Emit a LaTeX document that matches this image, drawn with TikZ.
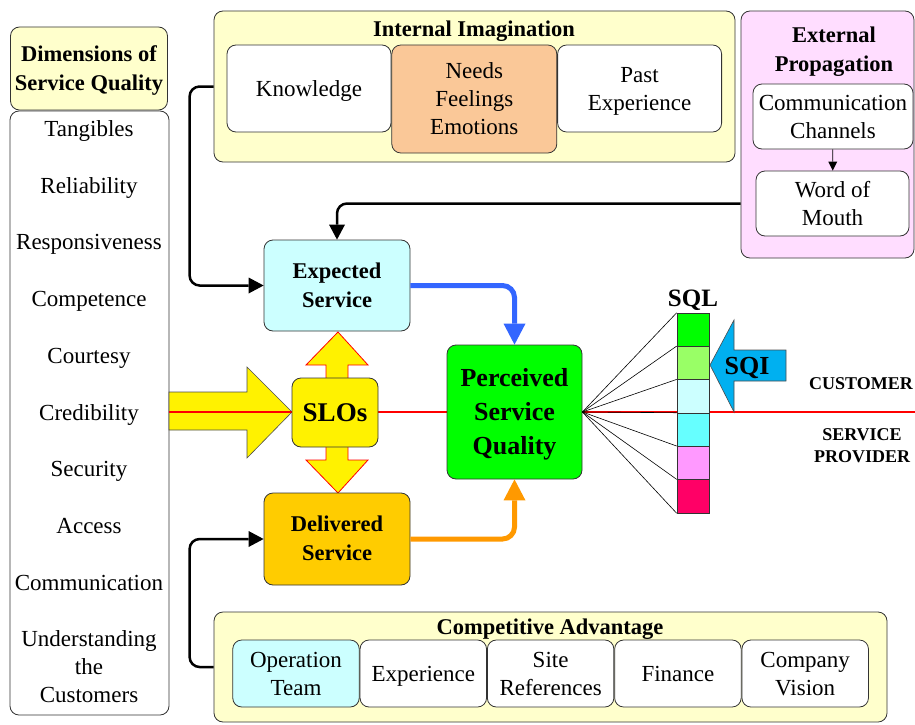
\documentclass[tikz,border=0pt]{standalone}
\usepackage{fontspec}
\setmainfont{Liberation Serif}
\usetikzlibrary{positioning,arrows.meta}

\definecolor{paleyellow}{HTML}{FFFFCC}
\definecolor{peach}{RGB}{250,200,152}
\definecolor{palepink}{HTML}{FFDDFF}
\definecolor{palecyan}{HTML}{CCFFFF}
\definecolor{gold}{HTML}{FFCC00}
\definecolor{sqlgreen}{HTML}{00FF00}
\definecolor{sqllime}{HTML}{99FF66}
\definecolor{sqlcyan}{HTML}{66FFFF}
\definecolor{sqlpink}{HTML}{FF99FF}
\definecolor{sqlred}{HTML}{FF0066}
\definecolor{sqiblue}{RGB}{0,176,240}
\definecolor{flowblue}{HTML}{3366FF}
\definecolor{floworange}{HTML}{FF9900}

% equal room above and below the capitals, so text sits in the middle
% (\topstrut also opens the first line of multi-line texts)
\newcommand\topstrut{\rule{0pt}{0.95em}}
\newcommand\botstrut{\rule[-0.29em]{0pt}{0.29em}}

\begin{document}
\begin{tikzpicture}[x=1pt, y=-1pt, font=\fontsize{23}{28}\selectfont,
	every node/.style={execute at begin node=\topstrut, execute at end node=\botstrut},
	box/.style={draw=black!80, line width=0.8pt, rounded corners=9pt, align=center, inner sep=2pt},
	panel/.style={box, fill=paleyellow},
	sub/.style={box, fill=white, minimum width=126.5pt, minimum height=67pt},
	hd/.style={font=\fontsize{22.5}{29}\selectfont\bfseries, align=center},
	conn/.style={line width=2.5pt, rounded corners=10pt, -{Triangle[length=15pt,width=16pt,line width=0pt]}},
	flow/.style={line width=5pt, rounded corners=12pt, -{Triangle[length=21pt,width=22pt,line width=0pt]}},
	cell/.style={draw=black!80, line width=0.6pt, minimum width=32pt, minimum height=33.3pt, inner sep=0pt}]
	\useasboundingbox (0,0) rectangle (915,725);

	\node[panel, hd, minimum width=157pt, minimum height=83pt] (dimhead) at (89,68.5) {\topstrut Dimensions of\\Service Quality};
	\node[box, fill=white, minimum width=159pt, minimum height=604pt] (dimlist) at (89.5,413) {};
	\foreach \txt [count=\i] in {Tangibles, Reliability, Responsiveness, Competence, Courtesy, Credibility, Security, Access, Communication}
		\node (dim\i) at (89, 72.3+56.7*\i) {\txt};
	\node[align=center] (dim10) at (89,667) {\topstrut Understanding\\the\\Customers};

	\node[panel, minimum width=521pt, minimum height=151pt] (imag) at (474.5,86.5) {};
	\node[hd] (imagtitle) at (474,29) {Internal Imagination};
	\node[box, fill=white, minimum width=164pt, minimum height=87pt] (know) at (309,88.5) {Knowledge};
	\node[box, fill=peach, minimum width=165pt, minimum height=108pt, anchor=north west] (needs) at (know.north east) {\topstrut Needs\\Feelings\\Emotions};
	\node[box, fill=white, minimum width=164pt, minimum height=87pt, anchor=north west] (past) at (needs.north east) {\topstrut Past\\Experience};

	\node[box, fill=palepink, minimum width=173pt, minimum height=247pt] (extern) at (827.5,134.5) {};
	\node[hd] (externtitle) at (834,50) {\topstrut External\\Propagation};
	\node[box, fill=white, minimum width=160pt, minimum height=65pt] (chan) at (833,116.5) {\topstrut Communication\\Channels};
	\node[box, fill=white, minimum width=153pt, minimum height=65pt] (wom) at (832.5,203.5) {\topstrut Word of\\Mouth};
	\draw[line width=0.8pt, -{Triangle[length=9pt,width=9pt,line width=0pt]}] (chan) -- (wom);

	\node[panel, minimum width=673pt, minimum height=110pt] (compet) at (550.5,667) {};
	\node[hd] (compettitle) at (550,627) {Competitive Advantage};
	\node[sub, fill=palecyan] (optm) at (296,673.5) {\topstrut Operation\\Team};
	\node[sub, right=0pt of optm] (exper) {Experience};
	\node[sub, right=0pt of exper] (site) {\topstrut Site\\References};
	\node[sub, right=0pt of site] (fin) {Finance};
	\node[sub, right=0pt of fin] (vision) {\topstrut Company\\Vision};

	% SLO arrows and the customer / provider line
	\draw[fill=yellow, draw=black!70, line width=0.6pt] (169,392) -- (247,392) -- (247,367) -- (292,412) -- (247,458) -- (247,430) -- (169,430) -- cycle;
	\draw[fill=yellow, draw=red, line width=0.8pt] (338,332) -- (368,365) -- (348,365) -- (348,460) -- (368,460) -- (338,493) -- (306,460) -- (326,460) -- (326,365) -- (306,365) -- cycle;
	\coordinate (rim) at (915,412);
	\draw[red, line width=2pt] (dimlist.east |- rim) -- (rim);

	\node[box, hd, fill=palecyan, minimum width=146pt, minimum height=91pt] (expected) at (337,285.5) {\topstrut Expected\\Service};
	\node[box, fill=yellow, minimum width=86pt, minimum height=69pt, font=\fontsize{27}{32}\selectfont\bfseries] (slos) at (335,412.5) {SLOs};
	\node[box, fill=sqlgreen, minimum width=135pt, minimum height=134pt, font=\fontsize{26}{34}\selectfont\bfseries] (perceived) at (514.5,412) {\topstrut Perceived\\Service\\Quality};
	\node[box, hd, fill=gold, minimum width=146pt, minimum height=92pt] (delivered) at (337,539) {\topstrut Delivered\\Service};

	\foreach \c [count=\i] in {sqlgreen, sqllime, palecyan, sqlcyan, sqlpink, sqlred}
		\node[cell, fill=\c] (q\i) at (693, 296.35+33.33*\i) {};
	\foreach \i in {1,...,6}
		\draw[line width=0.6pt] (perceived.east) -- (q\i.north west);
	\draw[line width=0.6pt] (perceived.east) -- (q6.south west);
	\node[font=\fontsize{25}{30}\selectfont\bfseries] (sqllabel) at (693,298) {SQL};

	\draw[fill=sqiblue, draw=black!70, line width=0.6pt] (710,365) -- (734,320) -- (734,350) -- (786,350) -- (786,381) -- (734,381) -- (734,412) -- cycle;
	\node[font=\fontsize{26}{30}\selectfont\bfseries] (sqi) at (747,366) {SQI};

	\node[font=\fontsize{18}{22}\selectfont\bfseries] (cust) at (861,384) {CUSTOMER};
	\node[font=\fontsize{18}{22}\selectfont\bfseries, align=center] (prov) at (862,446) {\topstrut SERVICE\\PROVIDER};

	\draw[conn] (imag.west) -- ++(-24,0) |- (expected);
	\draw[conn] (extern.west |- wom) -| (expected);
	\draw[conn] (compet.west) -- ++(-24,0) |- (delivered);
	\draw[flow, flowblue] (expected) -| (perceived);
	\draw[flow, floworange] (delivered) -| (perceived);
\end{tikzpicture}
\end{document}
